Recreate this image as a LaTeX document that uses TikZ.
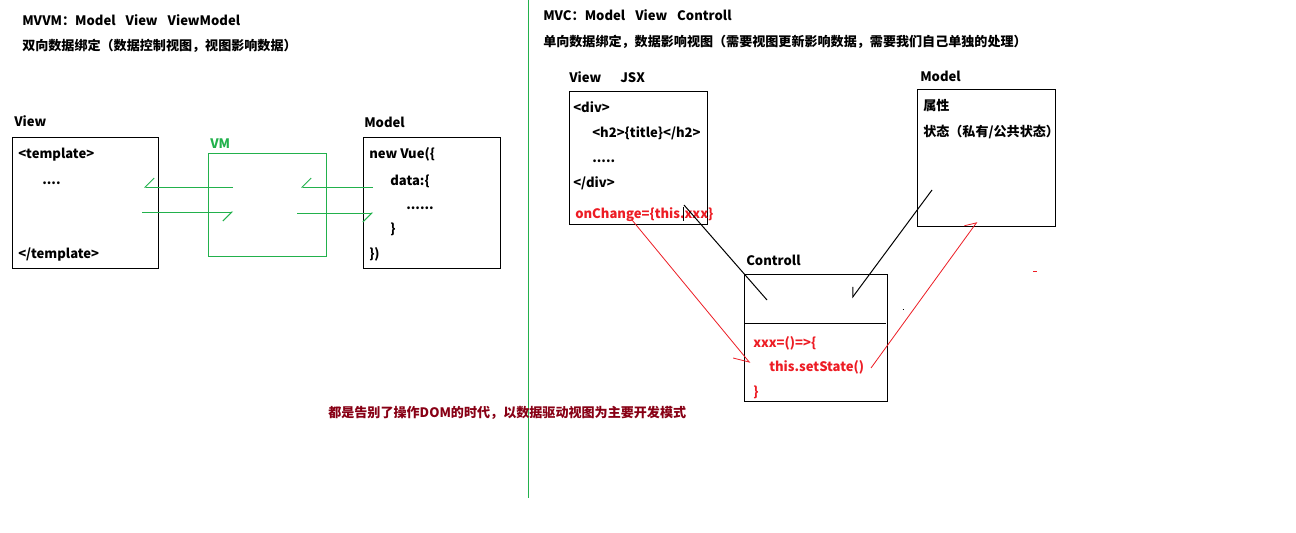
\documentclass[tikz,border=0pt]{standalone}
\usepackage{fontspec}
\setmainfont{Noto Sans CJK SC}
\usetikzlibrary{arrows.meta}
\definecolor{pgreen}{HTML}{22B14C}
\definecolor{pred}{HTML}{ED1C24}
\definecolor{pdark}{HTML}{880015}
\newcommand{\gapsp}{\hspace{7.5pt}}
\begin{document}
\begin{tikzpicture}[x=0.75pt,y=-0.75pt,
  txt/.style={anchor=base west, inner sep=0pt, font=\fontsize{9.8pt}{11pt}\selectfont\bfseries},
  redtxt/.style={txt, text=pred},
  box/.style={draw, line width=0.75pt, inner sep=0pt},
  thin/.style={line width=0.75pt},
  garr/.style={draw=pgreen, thin, -{Straight Barb[harpoon,swap,length=6.75pt,width=13.5pt]}},
  ]
\useasboundingbox[fill=white] (0,0) rectangle (1296,532);
% divider
\coordinate (divtop) at (528,0);
\coordinate (divbot) at (528,498);
\draw[pgreen, thin] (divtop) -- (divbot);

% ---------- MVVM ----------
\node[txt] (t1) at (22,25) {MVVM：Model\gapsp View\gapsp ViewModel};
\node[txt] (t2) at (22,50) {双向数据绑定（数据控制视图，视图影响数据）};

\node[txt] (lviewlbl) at (14,126) {View};
\node[box, minimum width=146*0.75pt, minimum height=131*0.75pt] (lview) at (85,202.5) {};
\node[txt] (lv1) at (18,158) {<template>};
\node[txt] (lv2) at (42,184) {....};
\node[txt] (lv3) at (18,258) {</template>};

\node[txt, text=pgreen] (vmlbl) at (210,148) {VM};
\node[draw=pgreen, thin, inner sep=0pt, minimum width=118*0.75pt, minimum height=103*0.75pt] (vm) at (267,204.5) {};

\node[txt] (lmodellbl) at (364,127) {Model};
\node[box, minimum width=137*0.75pt, minimum height=131*0.75pt] (lmodel) at (431.5,202.5) {};
\node[txt] (lm1) at (369,158) {new Vue(\{};
\node[txt] (lm2) at (390,185) {data:\{};
\node[txt] (lm3) at (406,209) {......};
\node[txt] (lm4) at (390,233) {\}};
\node[txt] (lm5) at (369,258) {\})};

\coordinate (g1s) at (233,187); \coordinate (g1e) at (144,187);
\coordinate (g2s) at (142,212); \coordinate (g2e) at (233,212);
\coordinate (g3s) at (373,187); \coordinate (g3e) at (301,187);
\coordinate (g4s) at (297,213); \coordinate (g4e) at (373,213);
\draw[garr] (g1s) -- (g1e);
\draw[garr] (g2s) -- (g2e);
\draw[garr] (g3s) -- (g3e);
\draw[garr] (g4s) -- (g4e);

% ---------- MVC ----------
\node[txt] (t3) at (543,20) {MVC：Model\gapsp View\gapsp Controll};
\node[txt] (t4) at (543,46) {单向数据绑定，数据影响视图（需要视图更新影响数据，需要我们自己单独的处理）};

\node[txt] (rviewlbl) at (569,82) {View};
\node[txt] (jsxlbl) at (620,82) {JSX};
\node[box, minimum width=138*0.75pt, minimum height=133*0.75pt] (rview) at (638,157.5) {};
\node[txt] (rv1) at (573,112) {<div>};
\node[txt] (rv2) at (592,137) {<h2>\{title\}</h2>};
\node[txt] (rv3) at (592,162) {.....};
\node[txt] (rv4) at (573,187) {</div>};
\node[redtxt] (rv5) at (575,218) {onChange=\{this.xxx\}};
\coordinate (cur1) at (683,207); \coordinate (cur2) at (683,221);
\draw[thin] (cur1) -- (cur2);

\node[txt] (rmodellbl) at (920,81) {Model};
\node[box, minimum width=138*0.75pt, minimum height=137*0.75pt] (rmodel) at (986,157.5) {};
\node[txt] (rm1) at (923,110) {属性};
\node[txt] (rm2) at (923,136) {状态（私有/公共状态）};

\node[txt] (ctrllbl) at (746,265) {Controll};
\node[box, minimum width=143*0.75pt, minimum height=127*0.75pt] (ctrl) at (815.5,337.5) {};
\coordinate (sepL) at (744,323); \coordinate (sepR) at (886,323);
\draw[thin] (sepL) -- (sepR);
\node[redtxt] (c1) at (753,347) {xxx=()=>\{};
\node[redtxt] (c2) at (769,371) {this.setState()};
\node[redtxt] (c3) at (753,396) {\}};

% connectors
\coordinate (b1s) at (684,205); \coordinate (b1e) at (767,300);
\draw[thin] (b1s) -- (b1e);
\coordinate (b2s) at (932,190); \coordinate (b2e) at (852,298);
\draw[thin, -{Straight Barb[harpoon,swap,length=6pt,width=9pt]}] (b2s) -- (b2e);
\coordinate (r1s) at (632,220); \coordinate (r1e) at (750,363);
\draw[pred, line width=0.6pt, -{Straight Barb[harpoon,swap,length=10pt,width=14.7pt]}] (r1s) -- (r1e);
\coordinate (r2s) at (871,368); \coordinate (r2e) at (977,222);
\draw[pred, line width=0.6pt, -{Straight Barb[harpoon,length=7pt,width=12pt]}] (r2s) -- (r2e);

% stray marks
\coordinate (dot1a) at (902.5,309); \coordinate (dot1b) at (904,309);
\draw[thin] (dot1a) -- (dot1b);
\coordinate (dot2a) at (1033,271); \coordinate (dot2b) at (1037,271);
\draw[pred, thin] (dot2a) -- (dot2b);

% bottom
\node[txt, text=pdark] (bottom) at (328,417) {都是告别了操作DOM的时代，以数据驱动视图为主要开发模式};
\end{tikzpicture}
\end{document}
